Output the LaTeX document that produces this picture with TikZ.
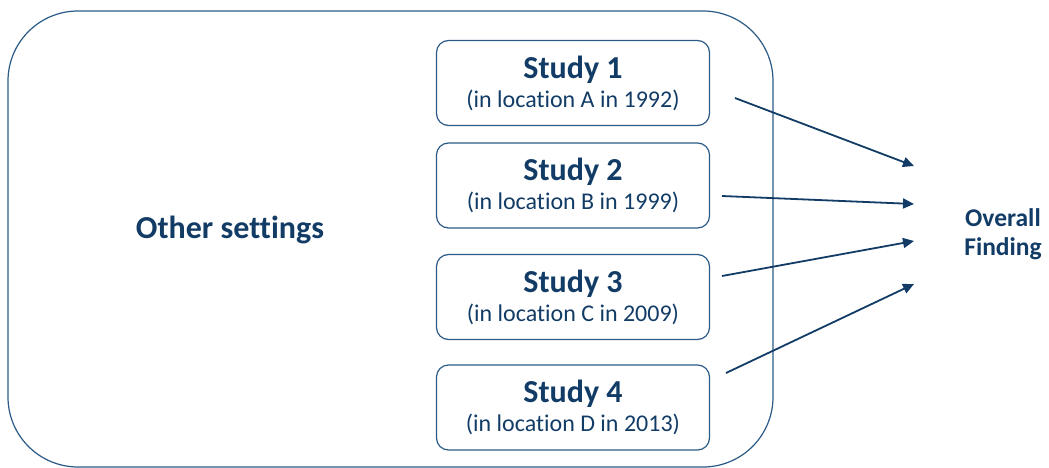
\documentclass[tikz,border=0pt]{standalone}
\usepackage{fontspec}
\setmainfont[Ligatures=CommonOff]{Carlito}
\usetikzlibrary{arrows.meta}

\definecolor{navy}{HTML}{123C66}
\definecolor{frameblue}{HTML}{2B5A86}

\tikzset{
  study/.style={draw=frameblue, line width=1.2pt, rounded corners=12pt,
                minimum width=273pt, minimum height=85pt, align=center,
                font=\fontsize{24}{26}\selectfont, text=navy},
  link/.style={draw=navy, line width=1.8pt, -{Triangle[length=11pt,width=10pt]}}
}

\newcommand{\studytitle}[1]{{\fontsize{32}{26}\selectfont\bfseries #1}}

\begin{document}
\begin{tikzpicture}[x=1pt, y=-1pt]
  \useasboundingbox (0,0) rectangle (1049,468);
  \path node (Set) at (390.5,239) [draw=frameblue, line width=1.2pt, rounded corners=70pt,
                                  minimum width=765pt, minimum height=456pt] {}
        node (Oth) at (230,230) [text=navy, font=\fontsize{32}{34}\selectfont\bfseries] {Other settings}
        %
        node (S1) at (573,83)  [study] {\studytitle{Study 1}\\[3pt](in location A in 1992)}
        node (S2) at (573,185.5) [study] {\studytitle{Study 2}\\[3pt](in location B in 1999)}
        node (S3) at (573,297) [study] {\studytitle{Study 3}\\[3pt](in location C in 2009)}
        node (S4) at (573,407.5) [study] {\studytitle{Study 4}\\[3pt](in location D in 2013)}
        %
        node (Fin) at (1003,234) [align=center, text=navy,
                                  font=\fontsize{25.5}{29}\selectfont\bfseries] {Overall\\Finding};
  \path coordinate (a1) at (735,98)  coordinate (b1) at (914,166)
        coordinate (a2) at (722,196) coordinate (b2) at (914,204)
        coordinate (a3) at (722,276) coordinate (b3) at (914,241)
        coordinate (a4) at (726,373) coordinate (b4) at (914,284);
  \foreach \i in {1,...,4}
    \draw[link] (a\i) -- (b\i);
\end{tikzpicture}
\end{document}
